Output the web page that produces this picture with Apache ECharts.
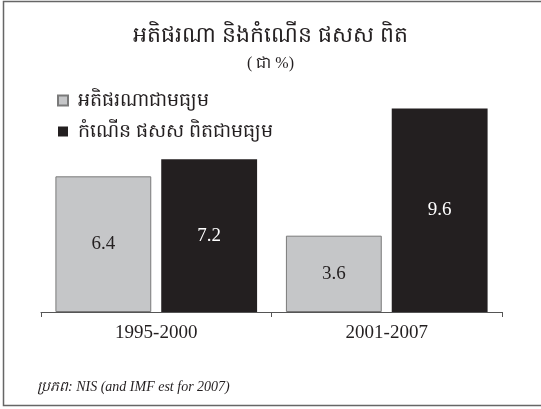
<!DOCTYPE html>
<html>
<head>
<meta charset="utf-8">
<script src="https://cdn.jsdelivr.net/npm/echarts@6/dist/echarts.min.js"></script>
<style>
  html, body { margin: 0; padding: 0; background: #fff; }
  #chart { width: 541px; height: 409px; }
</style>
</head>
<body>
<div id="chart"></div>
<script>
const periods = ["1995-2000", "2001-2007"];
const inflation = [6.4, 3.6];
const gdpGrowth = [7.2, 9.6];
const seriesNames = ["អតិផរណាជាមធ្យម", "កំណើន ផសស ពិតជាមធ្យម"];

const serif = "'Liberation Serif', 'DejaVu Serif', serif";
const khmer = "'Noto Sans', 'DejaVu Sans', sans-serif";

const chart = echarts.init(document.getElementById("chart"));

chart.setOption({
  backgroundColor: "#fff",
  animation: false,
  title: [
    {
      text: "អតិផរណា និងកំណើន ផសស ពិត",
      left: "center",
      top: 20,
      textStyle: { fontFamily: khmer, fontSize: 22, fontWeight: "normal", color: "#231f20" }
    },
    {
      text: "( ជា %)",
      left: "center",
      top: 51,
      textStyle: { fontFamily: serif, fontSize: 16, fontWeight: "normal", color: "#231f20" }
    },
    {
      text: "ប្រភព: NIS (and IMF est for 2007)",
      left: 32,
      top: 375,
      textStyle: { fontFamily: serif, fontSize: 14, fontStyle: "italic", fontWeight: "normal", color: "#231f20" }
    }
  ],
  legend: {
    orient: "vertical",
    left: 52,
    top: 86,
    icon: "rect",
    itemWidth: 10,
    itemHeight: 10,
    itemGap: 12,
    textStyle: { fontFamily: khmer, fontSize: 19, color: "#231f20", padding: [0, 0, 0, 5] },
    data: seriesNames
  },
  grid: { left: 41, right: 39, top: 100, bottom: 97 },
  xAxis: {
    type: "category",
    data: periods,
    axisLine: { lineStyle: { color: "#555", width: 1 } },
    axisTick: { show: true, length: 5, lineStyle: { color: "#555", width: 1 } },
    axisLabel: { fontFamily: serif, fontSize: 19, color: "#231f20", margin: 12 }
  },
  yAxis: {
    type: "value",
    min: 0,
    max: 10,
    show: false,
    splitLine: { show: false }
  },
  series: [
    {
      name: seriesNames[0],
      type: "bar",
      data: inflation,
      barGap: "10.4%",
      barCategoryGap: "12.5%",
      itemStyle: { color: "#c5c6c8", borderColor: "#7a7a7a", borderWidth: 1 },
      label: {
        show: true,
        position: "inside",
        fontFamily: serif,
        fontSize: 19,
        color: "#231f20"
      }
    },
    {
      name: seriesNames[1],
      type: "bar",
      data: gdpGrowth,
      itemStyle: { color: "#231f20" },
      label: {
        show: true,
        position: "inside",
        fontFamily: serif,
        fontSize: 19,
        color: "#fff"
      }
    }
  ],
  graphic: [
    {
      type: "rect",
      silent: true,
      z: -1,
      shape: { x: 3.5, y: 1.5, width: 560, height: 404 },
      style: { fill: "none", stroke: "#666", lineWidth: 1.5 }
    }
  ]
});

window.addEventListener("resize", () => chart.resize());
</script>
</body>
</html>
